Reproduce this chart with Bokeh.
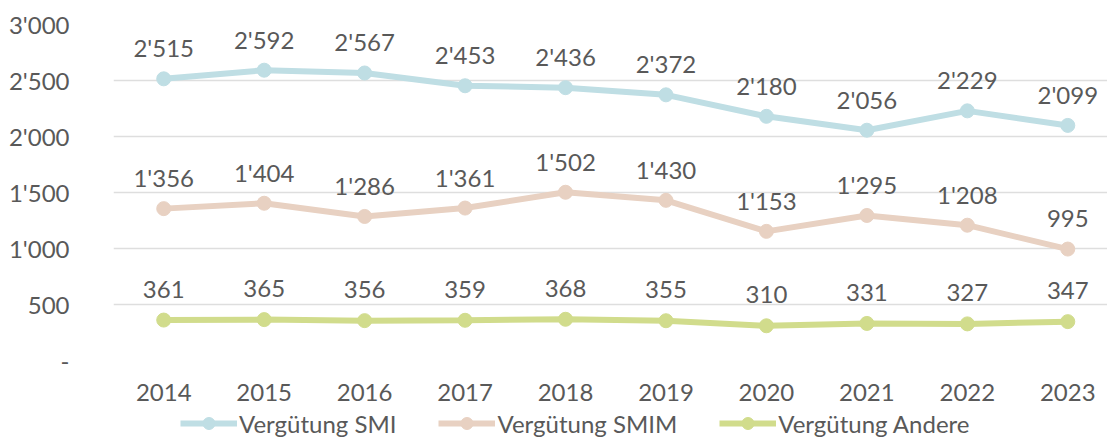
from bokeh.plotting import figure
from bokeh.layouts import column
from bokeh.models import Range1d, FixedTicker, Legend, LegendItem, ColumnDataSource
from bokeh.core.properties import value
from bokeh.embed import file_html
from bokeh.resources import INLINE

years = [2014, 2015, 2016, 2017, 2018, 2019, 2020, 2021, 2022, 2023]
smi = [2515, 2592, 2567, 2453, 2436, 2372, 2180, 2056, 2229, 2099]
smim = [1356, 1404, 1286, 1361, 1502, 1430, 1153, 1295, 1208, 995]
andere = [361, 365, 356, 359, 368, 355, 310, 331, 327, 347]
series_names = ["Vergütung SMI", "Vergütung SMIM", "Vergütung Andere"]
y_ticks = [0, 500, 1000, 1500, 2000, 2500, 3000]
y_tick_labels = ["-", "500", "1'000", "1'500", "2'000", "2'500", "3'000"]

colors = ["#BFDEE4", "#E8D1C2", "#D1DC8C"]
text_color = "#595959"
FONT = "Lato"
FS = "24px"
W = 1107


def fmt(v):
    return f"{v:,}".replace(",", "'")


p = figure(width=W, height=408, output_backend="svg", toolbar_location=None,
           x_range=Range1d(2013.5, 2013.5 + 994 / 100.45), y_range=Range1d(0, 3000),
           min_border_left=113, min_border_right=0, min_border_top=24, min_border_bottom=48)
p.outline_line_color = None
p.background_fill_color = "white"
p.border_fill_color = "white"

p.xgrid.grid_line_color = None
p.ygrid.grid_line_color = "#DEDEDE"
p.ygrid.grid_line_width = 1.5

p.yaxis.ticker = FixedTicker(ticks=y_ticks)
p.yaxis.major_label_overrides = {t: l for t, l in zip(y_ticks, y_tick_labels)}
p.xaxis.ticker = FixedTicker(ticks=years)
p.xaxis.major_label_overrides = {y: str(y) for y in years}
for ax in (p.xaxis, p.yaxis):
    ax.axis_line_color = None
    ax.major_tick_line_color = None
    ax.minor_tick_line_color = None
    ax.major_label_text_font = FONT
    ax.major_label_text_font_size = FS
    ax.major_label_text_color = text_color
p.yaxis.major_label_standoff = 38
p.xaxis.major_label_standoff = 17

for vals, col in zip([smi, smim, andere], colors):
    src = ColumnDataSource(dict(x=years, y=vals, lab=[fmt(v) for v in vals]))
    p.line("x", "y", source=src, line_color=col, line_width=6)
    p.scatter("x", "y", source=src, size=14, fill_color=col, line_color=col)
    p.text("x", "y", text="lab", source=src, text_font=value(FONT), text_font_size=FS,
           text_color=text_color, text_align="center", text_baseline="middle", y_offset=-31)

# legend strip (its frame is aligned with the main chart's frame by the column layout)
lg = figure(width=W, height=30, output_backend="svg", toolbar_location=None,
            x_range=Range1d(0, 1), y_range=Range1d(0, 1),
            min_border_left=0, min_border_right=0, min_border_top=0, min_border_bottom=0)
lg.axis.visible = False
lg.grid.visible = False
lg.outline_line_color = None
lg.border_fill_color = "white"
items = []
for name, col in zip(series_names, colors):
    # off-screen placeholder so the legend has a renderer to draw its glyph from
    l = lg.line(x=[-5, -4], y=[-5, -5], line_color=col, line_width=6)
    s = lg.scatter(x=[-5], y=[-5], size=14, fill_color=col, line_color=col)
    items.append(LegendItem(label=name, renderers=[l, s]))
legend = Legend(items=items, orientation="horizontal", location=(67, 0),
                label_text_font=FONT, label_text_font_size=FS, label_text_color=text_color,
                glyph_width=57, glyph_height=30, label_height=20, label_standoff=2, spacing=42,
                padding=0, margin=0, border_line_color=None, background_fill_alpha=0)
lg.add_layout(legend, "center")

layout = column(p, lg, spacing=0)
open("out.html", "w").write(file_html(layout, INLINE))
